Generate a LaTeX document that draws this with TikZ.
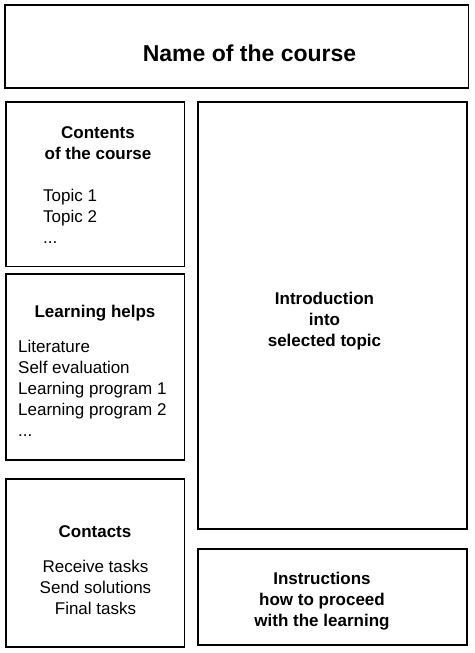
\documentclass[tikz,border=0pt]{standalone}
\usepackage{fontspec}
\setmainfont{Liberation Sans}
\begin{document}
\begin{tikzpicture}[x=1pt,y=1pt,
  box/.style={draw=black, line width=1.8pt, fill=white, inner sep=0pt, outer sep=0pt, anchor=north west},
  txt/.style={inner sep=0pt, font=\fontsize{17}{21}\selectfont},
  head/.style={txt, font=\fontsize{17}{21}\selectfont\bfseries, align=center, anchor=north},
  listl/.style={txt, align=left, anchor=north west},
  listc/.style={txt, align=center, anchor=north}]
\useasboundingbox[fill=white] (0,0) rectangle (474,-653);
% boxes
\node[box, minimum width=463.5, minimum height=83] (top) at (5,-5) {};
\node[box, minimum width=178.5, minimum height=164.5] (contents) at (6,-102) {};
\node[box, minimum width=178.5, minimum height=186] (helps) at (6,-274) {};
\node[box, minimum width=178.5, minimum height=168] (contacts) at (6,-479) {};
\node[box, minimum width=269, minimum height=427] (intro) at (198,-102) {};
\node[box, minimum width=269, minimum height=96] (instr) at (198,-549) {};
% texts
\node[inner sep=0pt, anchor=north, font=\fontsize{23}{27}\selectfont\bfseries] (title) at (249.5,-45) {Name of the course};
\node[head] (contentsh) at (98,-126) {Contents\\of the course};
\node[listl] (topics) at (43,-188.5) {Topic 1\\Topic 2\\...};
\node[head] (helpsh) at (95,-305) {Learning helps};
\node[listl] (helpsl) at (18,-340) {Literature\\Self evaluation\\Learning program 1\\Learning program 2\\...};
\node[head] (contactsh) at (95,-525) {Contacts};
\node[listc] (contactsl) at (95.5,-560) {Receive tasks\\Send solutions\\Final tasks};
\node[head] (introt) at (324.5,-291.5) {Introduction\\into\\selected topic};
\node[head] (instrt) at (322,-572) {Instructions\\how to proceed\\with the learning};
\end{tikzpicture}
\end{document}
